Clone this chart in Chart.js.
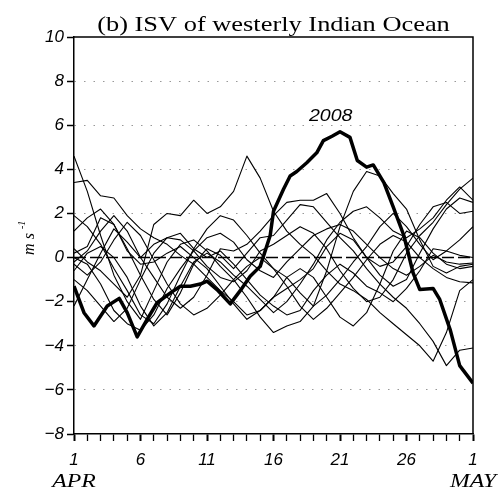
<!DOCTYPE html>
<html lang="es">
<head>
<meta charset="utf-8">
<title>ISV westerly Indian Ocean</title>
<script src="https://cdn.jsdelivr.net/npm/chart.js@4/dist/chart.umd.min.js"></script>
<style>
    body { margin: 0; background: #fff; }
    canvas { display: block; }
</style>
</head>
<body>
<canvas id="isv" width="498" height="490"></canvas>
<script>
//Días de abril (31 = 1 de mayo)
const dias = [1, 2, 3, 4, 5, 6, 7, 8, 9, 10, 11, 12, 13, 14, 15, 16, 17, 18, 19, 20, 21, 22, 23, 24, 25, 26, 27, 28, 29, 30, 31];
const diasMarcados = [1, 6, 11, 16, 21, 26, 31];
const textosX = ["1", "6", "11", "16", "21", "26", "1"];
const meses = ["APR", "MAY"];

//2008, leído con más detalle
const dias2008 = [1, 1.75, 2.5, 3.5, 4.4, 5, 5.75, 6.5, 7.25, 8.25, 9, 9.75, 10.5, 11, 11.75, 12.75, 13.5, 14.25, 15, 15.75, 16, 16.75, 17.25, 17.75, 18.5, 19.25, 19.75, 20.4, 21, 21.75, 22.3, 23, 23.5, 24.3, 25, 25.8, 26.5, 27, 28, 28.5, 29.3, 30, 31];
const valores2008 = [-1.3, -2.5, -3.1, -2.2, -1.85, -2.5, -3.6, -2.8, -2.05, -1.6, -1.3, -1.3, -1.2, -1.07, -1.45, -2.1, -1.5, -0.85, -0.4, 1.0, 2.1, 3.1, 3.7, 3.9, 4.3, 4.75, 5.3, 5.5, 5.7, 5.45, 4.4, 4.1, 4.2, 3.4, 2.3, 1.0, -0.7, -1.45, -1.4, -1.9, -3.3, -4.9, -5.7];

//Los otros años (líneas finas)
const otro01 = [4.6, 3.0, 1.0, -0.8, -2.0, -2.8, -1.5, -0.2, 0.6, 0.8, 0.3, -0.4, -1.0, -1.8, -2.7, -3.4, -3.1, -2.9, -2.2, -0.6, 1.4, 3.0, 3.9, 3.7, 2.9, 2.2, 0.8, -0.4, -0.7, -0.4, -0.3];
const otro02 = [3.4, 3.5, 2.8, 2.7, 1.9, 1.3, 0.9, 0.6, 0.1, -0.3, -0.9, -1.5, -2.0, -2.6, -2.4, -1.8, -1.4, -1.0, -0.5, 0.5, 1.1, 0.8, 0.0, -0.8, -1.3, -1.0, 0.2, 1.3, 2.2, 2.7, 2.5];
const otro03 = [0.4, -0.2, -0.6, -1.2, -1.8, -0.8, 1.5, 2.0, 1.9, 2.6, 2.0, 2.3, 3.0, 4.6, 3.6, 2.1, 1.2, 0.6, 0.1, -0.6, -1.2, -1.5, -1.9, -2.5, -3.0, -3.5, -4.0, -4.7, -3.4, -1.5, -1.0];
const otro04 = [1.2, 1.8, 2.2, 1.5, 0.4, -0.8, -1.9, -2.6, -1.6, -0.3, 0.4, 0.1, -0.5, 0.2, 0.9, 1.0, 1.7, 2.4, 2.3, 1.6, 0.9, 0.3, -0.5, -1.2, -1.8, -2.3, -3.0, -3.8, -4.9, -4.2, -4.1];
const otro05 = [-0.2, 0.3, 1.2, 1.9, 1.2, 0.0, -0.9, -1.8, -2.3, -1.8, -0.8, 0.4, 0.3, 0.6, 1.2, 1.9, 2.5, 2.6, 2.6, 2.9, 2.0, 0.9, 0.0, -0.4, -0.2, 0.5, 1.5, 2.3, 2.5, 2.0, 2.1];
const otro06 = [-2.2, -1.0, 0.2, 1.3, 0.7, 0.0, 0.6, 0.9, 0.8, 0.3, -0.4, -0.9, -1.1, -0.6, 0.3, 0.6, 1.0, 1.4, 1.1, 0.4, -0.6, -1.4, -2.0, -1.8, -1.0, 0.2, 1.0, 1.6, 2.4, 3.1, 3.6];
const otro07 = [0.0, -0.3, -1.2, -2.4, -3.0, -3.3, -2.6, -1.4, -0.5, 0.3, 0.9, 1.1, 0.7, -0.1, -0.6, -0.9, -0.2, 0.4, 1.0, 1.3, 1.5, 1.2, 0.6, 0.0, -0.5, -0.8, -0.4, 0.1, -0.2, -0.3, -0.25];
const otro08 = [-0.3, -0.8, -0.2, 0.8, 1.6, 1.0, -0.1, -1.2, -2.1, -2.6, -2.3, -1.7, -1.0, -0.4, 0.0, -0.5, -1.3, -2.2, -2.8, -2.3, -1.6, -0.9, -0.1, 0.6, 1.0, 0.7, 0.0, -0.5, -0.9, -1.1, -1.15];
const otro09 = [-0.6, 0.2, 0.5, 0.0, -0.9, -2.2, -3.1, -2.5, -1.3, -0.2, 0.2, -0.2, -0.8, -1.3, -1.9, -2.5, -2.0, -1.2, -0.3, 0.8, 1.6, 2.1, 2.3, 1.8, 1.2, 0.9, 1.3, 1.8, 2.6, 3.2, 2.6];
const otro10 = [1.9, 1.4, 0.6, -0.5, -1.5, -2.6, -3.0, -2.1, -0.8, 0.4, 1.3, 1.9, 1.7, 1.0, 0.2, -0.5, -0.9, -1.6, -2.2, -1.7, -1.0, -0.2, 0.5, 1.4, 2.0, 1.4, 0.6, -0.1, 0.3, 0.8, 1.4];
const otro11 = [0.2, 0.5, 1.8, 1.5, 0.3, -0.3, -0.2, 0.2, 0.5, 0.0, -0.5, -1.3, -2.1, -2.8, -2.4, -1.8, -0.9, -0.5, -0.9, -1.8, -2.7, -3.1, -2.5, -1.2, 0.3, 1.2, 0.9, 0.2, -0.3, -0.5, -0.4];
const otro12 = [-1.0, -1.5, -2.2, -2.9, -2.3, -1.0, 0.2, 0.9, 1.1, 0.4, 0.0, 0.3, -0.3, -1.0, -1.7, -2.2, -2.6, -2.4, -1.5, -0.8, -0.3, -0.7, -1.3, -1.6, -2.0, -1.4, -0.6, 0.4, 0.3, 0.1, 0.0];
const otros = [otro01, otro02, otro03, otro04, otro05, otro06, otro07, otro08, otro09, otro10, otro11, otro12];

//Armo los conjuntos de datos
const conjuntos = otros.map((serie) => ({
    data: serie.map((v, i) => ({ x: dias[i], y: v })),
    borderColor: "#000",
    borderWidth: 1.1,
}));
conjuntos.push({
    data: dias2008.map((d, i) => ({ x: d, y: valores2008[i] })),
    borderColor: "#000",
    borderWidth: 3.5,
});
//línea del cero, segmentada
conjuntos.push({
    data: [{ x: dias[0], y: 0 }, { x: dias[dias.length - 1], y: 0 }],
    borderColor: "#000",
    borderWidth: 1.5,
    borderDash: [12, 4],
});

//texto estirado a lo ancho, como en la figura original
function texto(ctx, str, x, y, fuente, sx, align) {
    ctx.save();
    ctx.translate(x, y);
    ctx.scale(sx, 1);
    ctx.font = fuente;
    ctx.textAlign = align || "center";
    ctx.fillStyle = "#000";
    ctx.fillText(str, 0, 0);
    ctx.restore();
}

const adornos = {
    id: "adornos",
    afterDraw(chart) {
        const { ctx, chartArea: a, scales } = chart;
        //marco arriba y a la derecha
        ctx.save();
        ctx.strokeStyle = "#000";
        ctx.lineWidth = 1.5;
        ctx.beginPath();
        ctx.moveTo(a.left, a.top);
        ctx.lineTo(a.right, a.top);
        ctx.lineTo(a.right, a.bottom);
        ctx.stroke();
        ctx.restore();
        //título
        texto(ctx, "(b) ISV of westerly Indian Ocean", (a.left + a.right) / 2, 31, "22px 'Liberation Serif'", 1.2);
        //meses
        texto(ctx, meses[0], scales.x.getPixelForValue(1), 487, "italic 19px 'Liberation Serif'", 1.25);
        texto(ctx, meses[1], scales.x.getPixelForValue(31), 487, "italic 19px 'Liberation Serif'", 1.25);
        //2008
        texto(ctx, "2008", scales.x.getPixelForValue(20.3), scales.y.getPixelForValue(6.2), "italic 17px 'Liberation Sans'", 1.15);
        //unidades
        ctx.save();
        ctx.translate(34, 240);
        ctx.rotate(-Math.PI / 2);
        ctx.fillStyle = "#000";
        ctx.font = "italic 16px 'Liberation Serif'";
        ctx.textAlign = "center";
        ctx.fillText("m s", -4, 0);
        ctx.font = "italic 10px 'Liberation Serif'";
        ctx.textAlign = "left";
        ctx.fillText("-1", 11, -9);
        ctx.restore();
    },
};

new Chart(document.getElementById("isv"), {
    type: "line",
    data: { datasets: conjuntos },
    plugins: [adornos],
    options: {
        responsive: false,
        animation: false,
        layout: { padding: { top: 37, right: 25, left: 0, bottom: 0 } },
        elements: {
            point: { radius: 0 },
            line: { tension: 0, borderJoinStyle: "round" },
        },
        plugins: {
            legend: { display: false },
            tooltip: { enabled: false },
        },
        scales: {
            x: {
                type: "linear",
                min: 1,
                max: 31,
                afterFit: (s) => { s.height = 56; },
                afterBuildTicks: (s) => { s.ticks = dias.map((d) => ({ value: d })); },
                border: { color: "#000", width: 1.5 },
                grid: {
                    drawOnChartArea: false,
                    tickLength: 7,
                    tickColor: "#000",
                    tickWidth: (c) => (diasMarcados.includes(c.tick.value) ? 2 : 1.3),
                },
                ticks: {
                    autoSkip: false,
                    maxRotation: 0,
                    padding: 9,
                    color: "#000",
                    font: { family: "'Liberation Sans'", style: "italic", size: 17 },
                    callback: (v) => {
                        const i = diasMarcados.indexOf(v);
                        return i >= 0 ? textosX[i] : "";
                    },
                },
            },
            y: {
                min: -8,
                max: 10,
                afterFit: (s) => { s.width = 74; },
                border: { color: "#000", width: 1.5, dash: [1.5, 8] },
                grid: {
                    color: (c) => (c.tick && [10, 0, -8].includes(c.tick.value) ? "rgba(0,0,0,0)" : "#999"),
                    tickLength: 7,
                    tickColor: "#000",
                    tickWidth: 1.5,
                },
                ticks: {
                    stepSize: 2,
                    padding: 3,
                    color: "#000",
                    font: { family: "'Liberation Sans'", style: "italic", size: 17 },
                    callback: (v) => (v < 0 ? "\u2212" + Math.abs(v) : String(v)),
                },
            },
        },
    },
});
</script>
</body>
</html>
